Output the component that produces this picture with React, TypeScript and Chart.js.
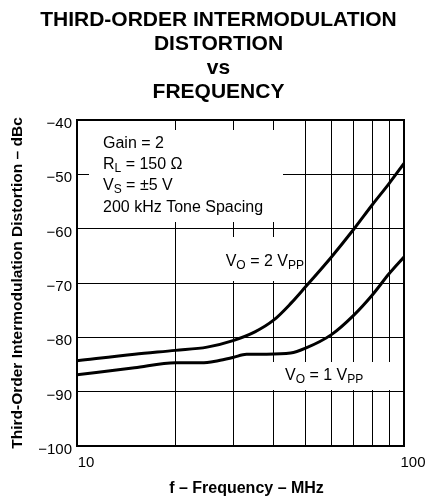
import { useEffect, useRef } from 'react';
import { Chart, registerables } from 'chart.js';

Chart.register(...registerables);

// ---- data ----
const FREQ_2VPP = [10, 15, 20, 25, 30, 35, 40, 45, 50, 60, 70, 80, 90, 100];
const IMD_2VPP = [-84.3, -83.1, -82.4, -81.8, -80.6, -79.0, -76.8, -73.8, -70.7, -65.2, -60.2, -55.6, -51.7, -48.0];
const FREQ_1VPP = [10, 15, 20, 24, 27, 30, 33, 38, 45, 50, 60, 70, 80, 90, 100];
const IMD_1VPP = [-86.9, -85.6, -84.7, -84.7, -84.3, -83.7, -83.1, -83.1, -82.9, -82.0, -79.5, -76.0, -72.2, -68.3, -65.2];

const X_GRID = [10, 20, 30, 40, 50, 60, 70, 80, 90, 100];
const X_LABELS = [10, 100];
const Y_MIN = -100;
const Y_MAX = -40;
const Y_STEP = 10;

const TITLE_LINES = ['THIRD-ORDER INTERMODULATION', 'DISTORTION', 'vs', 'FREQUENCY'];
const X_TITLE = 'f \u2013 Frequency \u2013 MHz';
const Y_TITLE = 'Third-Order Intermodulation Distortion \u2013 dBc';

type Part = [string, boolean];
const CONDITION_LINES: Part[][] = [
  [['Gain = 2', false]],
  [['R', false], ['L', true], [' = 150 \u03A9', false]],
  [['V', false], ['S', true], [' = \u00B15 V', false]],
  [['200 kHz Tone Spacing', false]],
];
const LABEL_2VPP: Part[] = [['V', false], ['O', true], [' = 2 V', false], ['PP', true]];
const LABEL_1VPP: Part[] = [['V', false], ['O', true], [' = 1 V', false], ['PP', true]];

const FONT = "'Liberation Sans', Arial, Helvetica, sans-serif";

function drawParts(ctx: CanvasRenderingContext2D, x: number, y: number, parts: Part[]) {
  let cx = x;
  for (const [t, sub] of parts) {
    ctx.font = `${sub ? 12 : 16}px ${FONT}`;
    ctx.fillText(t, cx, sub ? y + 2.5 : y);
    cx += ctx.measureText(t).width;
  }
}

// white label backgrounds, relative to chart area (left, top, right, bottom)
const BOXES = [
  [12, 10, 206, 102],
  [145, 117, 227, 161],
  [189, 242, 320, 270],
];

const annotate = {
  id: 'annotate',
  beforeDatasetsDraw(chart: any) {
    const { ctx, chartArea: a } = chart;
    ctx.save();
    ctx.fillStyle = '#fff';
    for (const [x0, y0, x1, y1] of BOXES) {
      ctx.fillRect(a.left + x0, a.top + y0, x1 - x0, y1 - y0);
    }
    ctx.fillStyle = '#000';
    ctx.textAlign = 'left';
    ctx.textBaseline = 'alphabetic';
    const baselines = [28, 49, 70, 91.5];
    CONDITION_LINES.forEach((line, i) => drawParts(ctx, a.left + 26, a.top + baselines[i], line));
    drawParts(ctx, a.left + 148.7, a.top + 146, LABEL_2VPP);
    drawParts(ctx, a.left + 208, a.top + 260, LABEL_1VPP);
    ctx.restore();
  },
  afterDatasetsDraw(chart: any) {
    const { ctx, chartArea: a } = chart;
    ctx.save();
    ctx.strokeStyle = '#000';
    ctx.lineWidth = 2;
    ctx.strokeRect(a.left, a.top, a.right - a.left, a.bottom - a.top);
    ctx.fillStyle = '#000';
    ctx.font = `bold 16px ${FONT}`;
    ctx.textAlign = 'center';
    ctx.textBaseline = 'middle';
    ctx.fillText(X_TITLE, a.left + 169.5, a.bottom + 43);
    ctx.restore();
  },
};

export default function App() {
  const ref = useRef<HTMLCanvasElement>(null);
  useEffect(() => {
    document.body.style.margin = '0';
    Chart.defaults.font.family = FONT;
    Chart.defaults.color = '#000';
    const chart = new Chart(ref.current as HTMLCanvasElement, {
      type: 'line',
      data: {
        datasets: [
          {
            label: 'VO = 2 VPP',
            data: FREQ_2VPP.map((f, i) => ({ x: f, y: IMD_2VPP[i] })),
            borderColor: '#000',
            borderWidth: 3,
            pointRadius: 0,
            fill: false,
            cubicInterpolationMode: 'monotone',
          },
          {
            label: 'VO = 1 VPP',
            data: FREQ_1VPP.map((f, i) => ({ x: f, y: IMD_1VPP[i] })),
            borderColor: '#000',
            borderWidth: 3,
            pointRadius: 0,
            fill: false,
            cubicInterpolationMode: 'monotone',
          },
        ],
      },
      options: {
        animation: false,
        responsive: false,
        layout: { padding: { left: 8, right: 0, top: 0, bottom: 0 } },
        plugins: {
          legend: { display: false },
          tooltip: { enabled: false },
          title: {
            display: true,
            text: TITLE_LINES,
            color: '#000',
            font: { size: 21, weight: 'bold', lineHeight: 24 / 21 },
            padding: { top: 8, bottom: 16 },
          },
        },
        scales: {
          x: {
            type: 'logarithmic',
            min: 10,
            max: 100,
            afterBuildTicks: (s: any) => {
              s.ticks = X_GRID.map((v) => ({ value: v }));
            },
            afterFit: (s: any) => {
              s.height = 52;
              s.paddingLeft = 0;
              s.paddingRight = 25;
            },
            ticks: {
              autoSkip: false,
              maxRotation: 0,
              labelOffset: 9,
              padding: 8,
              font: { size: 15 },
              color: '#000',
              callback: (v: any) => (X_LABELS.includes(Number(v)) ? String(v) : ''),
            },
            grid: { color: '#000', lineWidth: 1, drawTicks: false },
            border: { display: false },
          },
          y: {
            min: Y_MIN,
            max: Y_MAX,
            afterFit: (s: any) => {
              s.width = 69;
              s.paddingTop = 0;
              s.paddingBottom = 0;
            },
            ticks: {
              stepSize: Y_STEP,
              padding: 5,
              labelOffset: 4,
              font: { size: 15 },
              color: '#000',
              callback: (v: any) => String(v).replace('-', '\u2212'),
            },
            grid: { color: '#000', lineWidth: 1, drawTicks: false },
            border: { display: false },
            title: {
              display: true,
              text: Y_TITLE,
              color: '#000',
              font: { size: 15.5, weight: 'bold' },
              padding: { top: 0, bottom: 0 },
            },
          },
        },
      },
      plugins: [annotate],
    } as any);
    return () => chart.destroy();
  }, []);
  return (
    <div style={{ width: 429, height: 498 }}>
      <canvas ref={ref} width={429} height={498} style={{ display: 'block' }} />
    </div>
  );
}
